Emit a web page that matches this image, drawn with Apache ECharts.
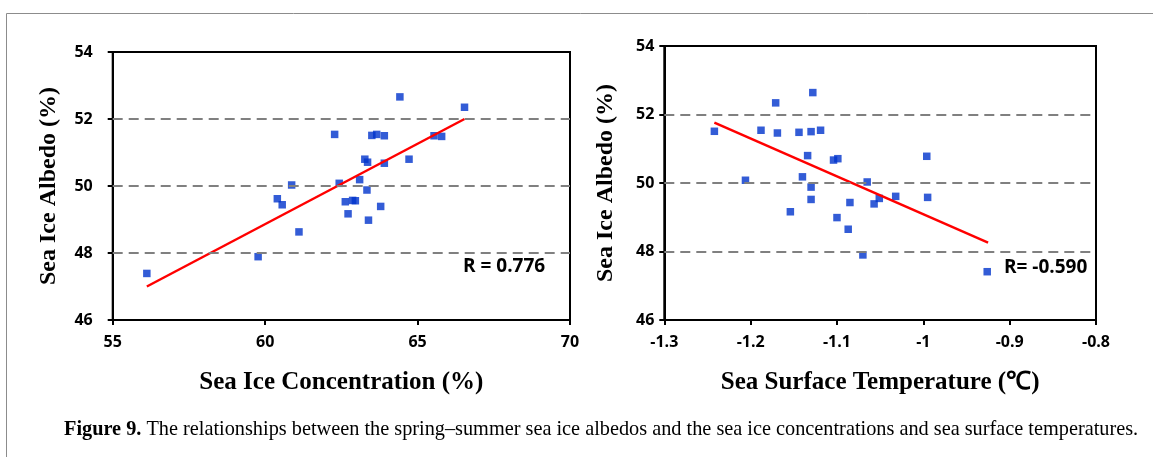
<!DOCTYPE html>
<html>
<head>
<meta charset="utf-8">
<script src="https://cdn.jsdelivr.net/npm/echarts@6/dist/echarts.min.js"></script>
<style>
html,body{margin:0;padding:0;background:#fff;}
#c{width:1153px;height:457px;}
</style>
</head>
<body>
<div id="c"></div>
<script>
// ---- Data ----
const sicX = [56.12, 59.77, 60.40, 60.56, 60.87, 61.11, 62.28, 62.43, 62.63, 62.72, 62.87, 62.96, 63.10, 63.27, 63.36, 63.34, 63.39, 63.50, 63.66, 63.79, 63.91, 63.91, 64.42, 64.72, 65.54, 65.79, 66.54];
const albedoA = [47.39, 47.89, 49.62, 49.44, 50.03, 48.63, 51.54, 50.08, 49.53, 49.17, 49.57, 49.56, 50.19, 50.80, 50.71, 49.88, 48.98, 51.51, 51.54, 49.39, 51.50, 50.68, 52.66, 50.80, 51.50, 51.48, 52.35];
const sstX = [-1.242, -1.206, -1.188, -1.171, -1.169, -1.154, -1.144, -1.140, -1.134, -1.130, -1.130, -1.130, -1.128, -1.119, -1.104, -1.099, -1.100, -1.087, -1.085, -1.070, -1.065, -1.057, -1.051, -1.032, -0.996, -0.995, -0.926];
const albedoB = [51.51, 50.08, 51.54, 52.34, 51.46, 49.16, 51.48, 50.18, 50.80, 51.50, 49.88, 49.52, 52.64, 51.54, 50.67, 50.71, 48.99, 48.65, 49.43, 47.90, 50.03, 49.39, 49.55, 49.61, 50.78, 49.58, 47.41];
const fitAX = [56.12, 66.54];
const fitAY = [47.0, 52.0];
const fitBX = [-1.242, -0.925];
const fitBY = [51.76, 48.26];
const xTicksA = [55, 60, 65, 70];
const xTicksB = [-1.3, -1.2, -1.1, -1, -0.9, -0.8];
const yTicks = [46, 48, 50, 52, 54];
const gridValues = [48, 50, 52];
const rA = 'R = 0.776';
const rB = 'R= -0.590';
const xTitleA = 'Sea Ice Concentration (%)';
const xTitleB = 'Sea Surface Temperature (\u2103)';
const yTitle = 'Sea Ice Albedo (%)';
const captionBold = 'Figure 9.';
const captionText = ' The relationships between the spring\u2013summer sea ice albedos and the sea ice concentrations and sea surface temperatures.';

const zip = (a, b) => a.map((v, i) => [v, b[i]]);

const tickFont = {color: '#000', fontFamily: 'Open Sans', fontWeight: 'bold', fontSize: 16};
const titleFont = {color: '#000', fontFamily: 'Liberation Serif', fontWeight: 'bold'};

function xAxis(grid, ticks, name, gap, dec) {
  return {
    type: 'value', gridIndex: grid, min: ticks[0], max: ticks[ticks.length - 1],
    interval: ticks[1] - ticks[0],
    name: name, nameLocation: 'middle', nameGap: gap,
    nameTextStyle: Object.assign({fontSize: 25}, titleFont),
    axisLine: {show: true, lineStyle: {color: '#000', width: 2}},
    axisTick: {show: true, length: 5, lineStyle: {color: '#000', width: 2}},
    axisLabel: Object.assign({margin: 14, formatter: v => dec ? (Math.round(v * 10) / 10).toString() : String(v)}, tickFont),
    splitLine: {show: false}
  };
}
function yAxis(grid, gap, margin) {
  return {
    type: 'value', gridIndex: grid, min: yTicks[0], max: yTicks[yTicks.length - 1], interval: 2,
    name: yTitle, nameLocation: 'middle', nameGap: gap, nameRotate: 90,
    nameTextStyle: Object.assign({fontSize: 24}, titleFont),
    axisLine: {show: true, lineStyle: {color: '#000', width: 2}},
    axisTick: {show: true, length: 5, lineStyle: {color: '#000', width: 2}},
    axisLabel: Object.assign({margin: margin}, tickFont),
    splitLine: {show: false}
  };
}
const gridMarkLine = {
  silent: true, symbol: 'none', label: {show: false},
  lineStyle: {color: '#808080', width: 2, type: [10, 6]},
  data: gridValues.map(v => ({yAxis: v}))
};

const chart = echarts.init(document.getElementById('c'), null, {renderer: 'canvas'});
chart.setOption({
  animation: false,
  backgroundColor: '#fff',
  grid: [
    {left: 112.7, top: 52, width: 457.3, height: 268, show: true, borderColor: '#000', borderWidth: 2, backgroundColor: 'transparent', containLabel: false},
    {left: 664.3, top: 46, width: 431.7, height: 274, show: true, borderColor: '#000', borderWidth: 2, backgroundColor: 'transparent', containLabel: false}
  ],
  xAxis: [xAxis(0, xTicksA, xTitleA, 50, false), xAxis(1, xTicksB, xTitleB, 50, true)],
  yAxis: [yAxis(0, 52, 20), yAxis(1, 47, 10)],
  series: [
    {type: 'scatter', xAxisIndex: 0, yAxisIndex: 0, symbol: 'rect', symbolSize: 7.5, itemStyle: {color: '#0033cc'}, data: zip(sicX, albedoA), z: 3, markLine: gridMarkLine},
    {type: 'line', xAxisIndex: 0, yAxisIndex: 0, symbol: 'none', lineStyle: {color: '#ff0000', width: 2.5}, data: zip(fitAX, fitAY), z: 4},
    {type: 'scatter', xAxisIndex: 1, yAxisIndex: 1, symbol: 'rect', symbolSize: 7.5, itemStyle: {color: '#0033cc'}, data: zip(sstX, albedoB), z: 3, markLine: gridMarkLine},
    {type: 'line', xAxisIndex: 1, yAxisIndex: 1, symbol: 'none', lineStyle: {color: '#ff0000', width: 2.5}, data: zip(fitBX, fitBY), z: 4}
  ],
  graphic: [
    {type: 'rect', shape: {x: 6.5, y: 13.5, width: 1300, height: 600}, style: {fill: 'none', stroke: '#8c8c8c', lineWidth: 1}, silent: true, z: -10},
    {type: 'text', left: 463, top: 257, style: {text: rA, fill: '#000', font: 'bold 19px "Open Sans"'}},
    {type: 'text', left: 1004, top: 258, style: {text: rB, fill: '#000', font: 'bold 19px "Open Sans"'}},
    {type: 'text', left: 64, top: 420, style: {
      text: '{b|' + captionBold + '}{r|' + captionText + '}',
      rich: {
        b: {fontFamily: 'Liberation Serif', fontWeight: 'bold', fontSize: 20.3, fill: '#000'},
        r: {fontFamily: 'Liberation Serif', fontSize: 20.3, fill: '#000'}
      }
    }}
  ]
});
</script>
</body>
</html>
